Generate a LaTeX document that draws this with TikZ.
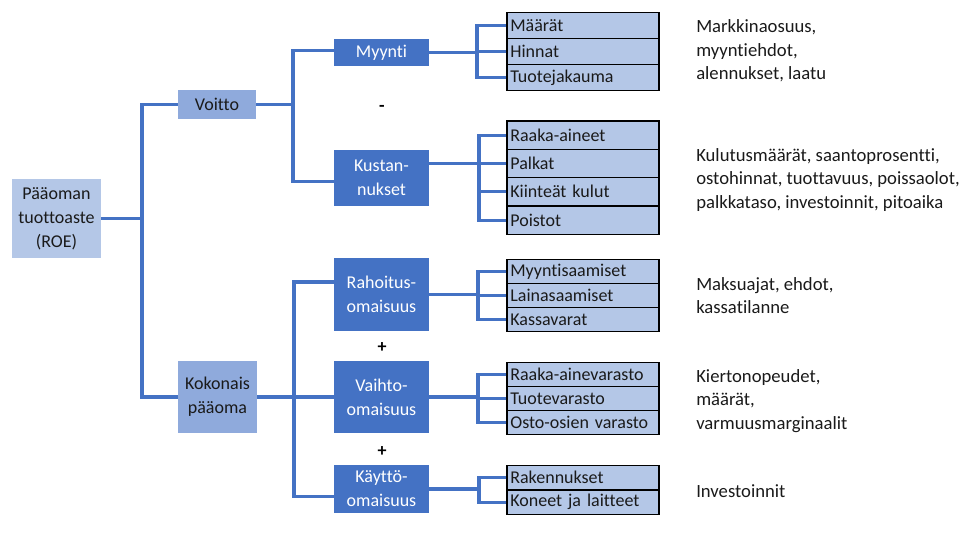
\documentclass[tikz,border=0pt]{standalone}
\usepackage{fontspec}
\setmainfont{Carlito}[Ligatures=NoCommon]
\definecolor{cdark}{HTML}{4472C4}
\definecolor{cmid}{HTML}{8FAADC}
\definecolor{clight}{HTML}{B4C7E7}
\definecolor{ctext}{HTML}{1A1A1A}
\begin{document}
\begin{tikzpicture}[x=0.75pt,y=-0.75pt,
  basefont/.style={font=\fontsize{13.5}{18}\selectfont},
  box/.style={basefont, inner sep=0pt, align=center, text=ctext},
  lightbox/.style={box, fill=clight},
  midbox/.style={box, fill=cmid},
  darkbox/.style={box, fill=cdark, text=white, minimum width=71.25pt},
  leaf/.style={basefont, draw=black, line width=1pt, fill=clight, text=ctext,
     inner xsep=2.5pt, inner ysep=0pt, text width=109pt, align=left},
  note/.style={font=\fontsize{14}{17.6}\selectfont, inner sep=0pt, align=left, anchor=west, text=ctext},
  sign/.style={font=\fontsize{13.5}{16}\selectfont\bfseries, inner sep=0pt, text=black},
  conn/.style={draw=cdark, line width=2.4pt}]
\useasboundingbox (0,0) rectangle (961,533);
% main boxes
\node[lightbox, minimum width=66.75pt, minimum height=59.25pt] (roe) at (56.5,218.5) {Pääoman\\tuottoaste\\(ROE)};
\node[midbox, minimum width=58.5pt, minimum height=21.75pt] (voitto) at (217,104.5) {Voitto};
\node[midbox, minimum width=59.25pt, minimum height=54pt] (kok) at (217.5,397) {Kokonais\\pääoma};
\node[darkbox, minimum height=20.25pt] (myy) at (381.5,52.5) {Myynti};
\node[darkbox, minimum height=42pt] (kus) at (381.5,178) {Kustan-\\nukset};
\node[darkbox, minimum height=54.75pt] (rah) at (381.5,294.5) {Rahoitus-\\omaisuus};
\node[darkbox, minimum height=54pt] (vai) at (381.5,397) {Vaihto-\\omaisuus};
\node[darkbox, minimum height=36pt] (kay) at (381.5,489) {Käyttö-\\omaisuus};
% signs
\node[sign] (s1) at (382,108) {-};
\node[sign] (s2) at (382,348) {+};
\node[sign] (s3) at (382,452) {+};
% leaves
\node[leaf, minimum height=19.5pt] (l11) at (583,25.7) {Määrät};
\node[leaf, minimum height=19.5pt] (l12) at (583,51.7) {Hinnat};
\node[leaf, minimum height=19.5pt] (l13) at (583,77.7) {Tuotejakauma};
\node[leaf, minimum height=21.2pt] (l21) at (583,135.2) {Raaka-aineet};
\node[leaf, minimum height=21.2pt] (l22) at (583,163.5) {Palkat};
\node[leaf, minimum height=21.2pt] (l23) at (583,191.8) {Kiinteät kulut};
\node[leaf, minimum height=21.2pt] (l24) at (583,220.1) {Poistot};
\node[leaf, minimum height=18.1pt] (l31) at (583,271.4) {Myyntisaamiset};
\node[leaf, minimum height=18.1pt] (l32) at (583,295.5) {Lainasaamiset};
\node[leaf, minimum height=18.1pt] (l33) at (583,319.6) {Kassavarat};
\node[leaf, minimum height=18pt] (l41) at (583,374.3) {Raaka-ainevarasto};
\node[leaf, minimum height=18pt] (l42) at (583,398.3) {Tuotevarasto};
\node[leaf, minimum height=18pt] (l43) at (583,422.3) {Osto-osien varasto};
\node[leaf, minimum height=18.2pt] (l51) at (583,477.8) {Rakennukset};
\node[leaf, minimum height=18.2pt] (l52) at (583,502.2) {Koneet ja laitteet};
% notes
\node[note] (r1) at (696,51) {Markkinaosuus,\\myyntiehdot,\\alennukset, laatu};
\node[note] (r2) at (696,180) {Kulutusmäärät, saantoprosentti,\\ostohinnat, tuottavuus, poissaolot,\\palkkataso, investoinnit, pitoaika};
\node[note] (r3) at (696,295.5) {Maksuajat, ehdot,\\kassatilanne};
\node[note] (r4) at (696,401) {Kiertonopeudet,\\määrät,\\varmuusmarginaalit};
\node[note] (r5) at (696,491) {Investoinnit};
% connectors
\coordinate (j0) at (142,218.5);
\coordinate (j1) at (293,104.5);
\coordinate (j2) at (294,397);
\coordinate (b1) at (477,52.5);
\coordinate (b2) at (479,178);
\coordinate (b3) at (478,294.5);
\coordinate (b4) at (478,397);
\coordinate (b5) at (479,489);
\draw[conn] (roe.east) -- (j0);
\draw[conn] (voitto.west) -| (j0) |- (kok.west);
\draw[conn] (voitto.east) -- (j1);
\draw[conn] ([yshift=1.4pt]myy.west) -| (j1) |- ([yshift=-2.7pt]kus.west);
\draw[conn] (kok.east) -- (vai.west);
\draw[conn] ([yshift=9.4pt]rah.west) -| (j2) |- ([yshift=-5.8pt]kay.west);
\draw[conn] (myy.east) -- (b1);
\draw[conn] (l11.west) -| (b1) |- (l13.west);
\draw[conn] (l12.west) -- (l12.west -| b1);
\draw[conn] (kus.east |- l22.west) -- (l22.west);
\draw[conn] (l21.west) -| (b2) |- (l24.west);
\draw[conn] (l23.west) -- (l23.west -| b2);
\draw[conn] (rah.east) -- (b3);
\draw[conn] (l31.west) -| (b3) |- (l33.west);
\draw[conn] (l32.west) -- (l32.west -| b3);
\draw[conn] (vai.east) -- (b4);
\draw[conn] (l41.west) -| (b4) |- (l43.west);
\draw[conn] (l42.west) -- (l42.west -| b4);
\draw[conn] (kay.east) -- (b5);
\draw[conn] (l51.west) -| (b5) |- (l52.west);
\end{tikzpicture}
\end{document}
